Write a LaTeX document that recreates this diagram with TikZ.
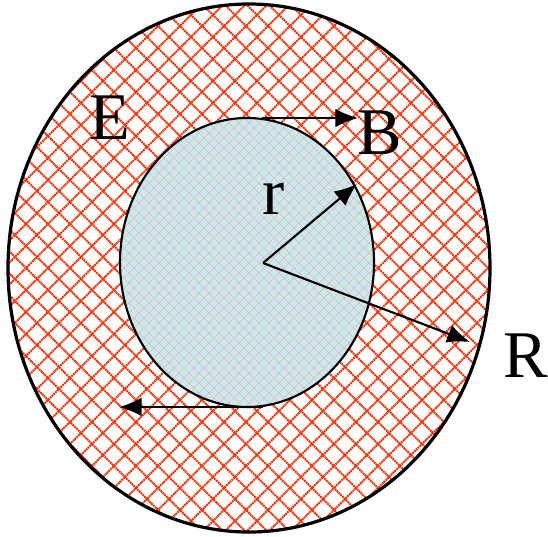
\documentclass[tikz,border=0pt]{standalone}
\usepackage{fontspec}
\setmainfont{Liberation Serif}
\usetikzlibrary{arrows.meta}
\definecolor{hatch}{HTML}{FF2A00}
\definecolor{core}{HTML}{C6EBF0}
\definecolor{corehatch}{HTML}{F0B4AC}
\tikzset{>={Latex[length=17pt,width=14pt]},
  rim/.style={draw=black,line width=2.4pt},
  edge/.style={draw=black,line width=1.6pt},
  field/.style={->,draw=black,line width=1.6pt},
  hatchline/.style={draw=hatch,line width=1.4pt,dash pattern=on 1.4pt off .5pt},
  corehatchline/.style={draw=corehatch,line width=.5pt},
  letter/.style={font=\fontsize{50}{56}\selectfont,inner sep=0pt}}
\begin{document}
\begin{tikzpicture}[x=.75pt,y=-.75pt]
\useasboundingbox (0,0) rectangle (548,536);
% outer shell
\begin{scope}
\clip (249,268) ellipse [x radius=241,y radius=264];
\foreach \c in {-550,-528,...,510}{\draw[hatchline] (\c,0)--++(536,536);\draw[hatchline] (\c,536)--++(536,-536);}
\end{scope}
\draw[rim] (249,268) ellipse [x radius=241,y radius=264];
% inner core
\fill[core] (247,262.5) ellipse [x radius=127,y radius=144.5];
\begin{scope}
\clip (247,262.5) ellipse [x radius=127,y radius=144.5];
\foreach \c in {-304,-294,...,264}{\draw[corehatchline] (\c,0)--++(536,536);\draw[corehatchline] (\c,536)--++(536,-536);}
\end{scope}
\draw[edge] (247,262.5) ellipse [x radius=127,y radius=144.5];
% radii and field arrows
\coordinate (O) at (263,263);
\coordinate (rtip) at (357,184);\coordinate (Rtip) at (470,342);
\coordinate (ctop) at (262,118);\coordinate (btip) at (358,118);
\coordinate (cbot) at (263,407);\coordinate (bbtip) at (119,407);
\draw[field] (O)--(rtip);\draw[field] (O)--(Rtip);
\draw[field] (ctop)--(btip);\draw[field] (cbot)--(bbtip);
\node[letter] (lblE) at (110,118) {E};
\node[letter] (lblB) at (380,133) {B};
\node[letter] (lblr) at (274,199) {r};
\node[letter] (lblR) at (526,356) {R};
\end{tikzpicture}
\end{document}
